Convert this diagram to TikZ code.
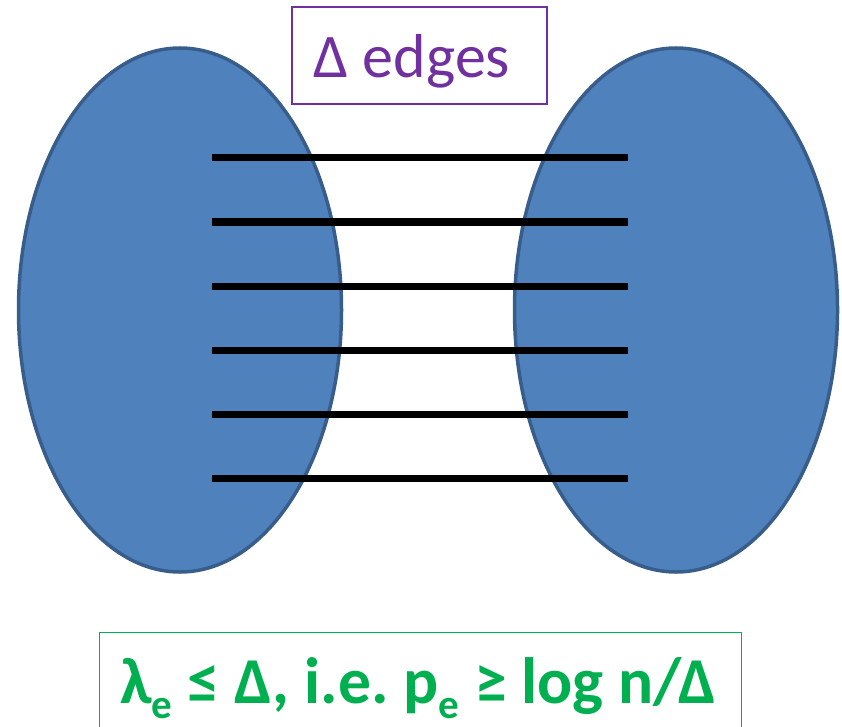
\documentclass[tikz,border=0pt]{standalone}
\usepackage{fontspec}
\setmainfont{Carlito}
\usetikzlibrary{shapes.geometric}
\definecolor{blobfill}{HTML}{4F81BD}
\definecolor{blobline}{HTML}{385D8A}
\definecolor{lblpurple}{HTML}{7030A0}
\definecolor{lblgreen}{HTML}{00B050}
\frenchspacing
\tikzset{
  blob/.style={ellipse, draw=blobline, fill=blobfill, line width=3.5pt, minimum width=323pt, minimum height=524pt, inner sep=0pt},
  edgeline/.style={line width=7pt, black},
  toplabel/.style={draw=lblpurple, line width=1.2pt, fill=white, minimum width=255pt, minimum height=97pt, inner sep=0pt},
  toptext/.style={text=lblpurple, font=\fontsize{62}{70}\selectfont, anchor=base, inner sep=0pt},
  botbox/.style={draw=lblgreen, line width=1.2pt, fill=white},
  bottext/.style={text=lblgreen, font=\bfseries\fontsize{65.5}{72}\selectfont, anchor=base, inner sep=0pt}
}
\newcommand{\subE}{\raisebox{-0.23em}{\fontsize{41}{44}\selectfont e}}
\begin{document}
\begin{tikzpicture}[x=1pt,y=-1pt]
\useasboundingbox (0,0) rectangle (842,727);
\node[blob] (L) at (180,310) {};
\node[blob] (R) at (676,310) {};
\foreach \i/\y in {1/158,2/222,3/286,4/350,5/414,6/478}{
  \coordinate (a\i) at (212,\y);
  \coordinate (b\i) at (628,\y);
  \draw[edgeline] (a\i) -- (b\i);
}
\node[toplabel] (top) at (419.5,55.5) {};
\node[toptext] (toptxt) at (412,78) {Δ edges};
\node[botbox, minimum width=642pt, minimum height=130pt, anchor=north west, inner sep=0pt] (botframe) at (99,632) {};
\node[bottext] (bot) at (418,703) {λ\subE{} ≤ Δ, i.e. p\subE{} ≥ log n/Δ};
\end{tikzpicture}
\end{document}
